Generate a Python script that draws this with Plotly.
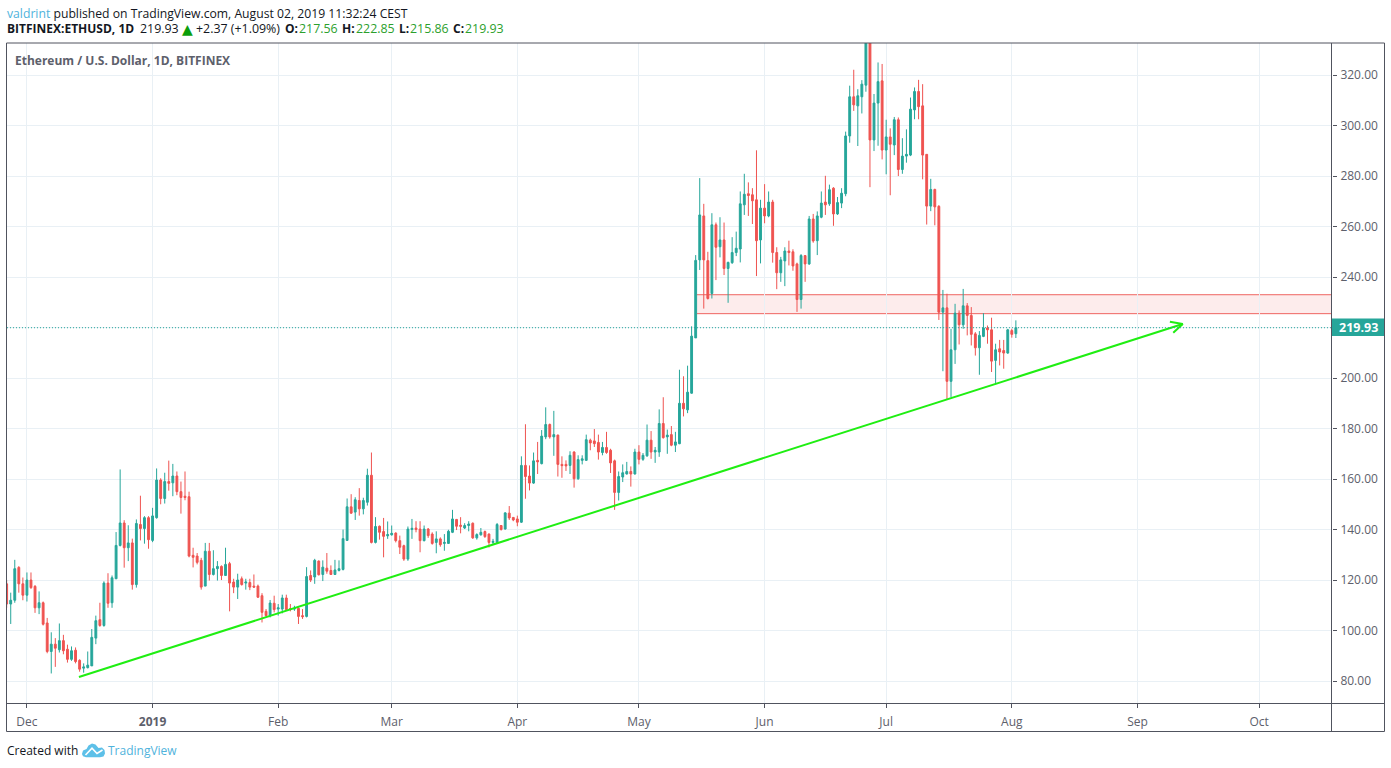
import pandas as pd
import plotly.graph_objects as go

FIRST_DAY = "2018-11-26"

opens = [
    118.5,110.5,112,125,118.5,
    114,120,117.5,109,111,103,91.7,94.6,92.4,96,92.6,88.6,92.2,88.2,85.1,85.3,86,97,104.3,102,118.8,111,120.5,133.7,142.6,132.8,134.7,118.2,142,140.4,144.7,
    135.7,144.7,159.6,152.3,159,158.5,161.2,155,153.2,153,129.8,129.5,127.8,117.6,131.4,122.2,124.5,125.4,121.8,126.5,119.2,117.2,120.5,118.8,119,117.6,117.6,113.8,107.6,105.9,110.8,
    108.5,108.5,112.9,108.7,108.5,108.8,105.9,105.6,121.8,121.2,127.5,122.2,124.7,123.8,122.2,123.8,124.2,135.7,149,146.9,151.5,148.2,150.8,161.5,134.9,141.3,139.2,137.5,
    137.9,138.6,135.6,133.6,128.3,140,140.6,140.2,135.6,140.2,138.2,134.9,136.3,134.5,134.5,138.9,144,141.7,140.6,141.6,142.5,136.7,137.9,139.2,138.2,134.9,134.9,141.6,140.2,146.5,144.8,
    144.2,142.9,165.4,161.2,158.4,167.4,166.1,176.7,181.6,176.7,177.4,165.8,165.8,165.4,170.7,160.1,167.4,167.4,175.4,175.1,174.5,170.5,172.5,171.4,167.2,154.7,160.8,162,163,162,
    170.7,167.8,169.2,175.4,170.7,170.7,182,176.7,177.6,173.4,174,190,187.4,194,215.9,246.8,264.2,246.5,233.5,260.7,252,254.7,243.4,245.7,249.7,251.1,268.6,273,272.6,270.6,254.7,
    267.3,264.2,269.7,249.7,241.7,246.4,250.3,250,245.2,231.1,248.5,245.2,263,254.4,263.7,269.7,269,275.2,265,269.3,273,295.9,311.4,307.8,311.4,316,337,294.3,308.9,317.7,
    290.3,295.5,292.3,302.3,282.6,287.9,288.3,306.2,313.5,307.8,288.6,268.1,274.7,268,226.1,227.8,198.7,211.2,225.7,221.1,228.6,224.8,217.5,212,216.5,219.8,219.1,207,211.6,210.9,209.9,
    218.8,217.56,
]
highs = [
    120,115,128,125.5,121,
    123,123,118,115.5,111.5,105,99.3,97,102.8,98.3,94.4,93.7,93.3,88.6,87,91.7,100.6,105.9,111,119.5,122.7,121.8,139,163.8,143.7,141.7,136.4,144,153.4,145.3,145.3,
    148.6,164.2,160.3,162.5,167.3,166,163,159,163,155,132.8,130.7,128.8,134.7,134.7,131.8,127.5,125.8,132.8,127.2,120.5,122.5,121.4,120.5,120.5,122.2,118.2,114.8,108.5,112.1,113.8,
    110.5,114.2,114.2,110.5,109.8,109.2,108.5,125.1,123.8,128.4,127.8,127.8,130.7,125.8,128,127.8,140,152.3,154,152.8,156.4,152.6,164.1,170.5,144.9,141.6,144.6,143.2,
    141.6,138.9,137.6,134,141.2,144.2,143.3,143.3,141.6,140.6,138.9,139.3,136.9,138.2,139.9,147.8,144.2,144.9,142.5,143.3,142.8,138.5,140.6,139.6,138.5,136.3,142.6,141.8,146.9,149.3,144.9,
    145.5,169,181.7,165.4,170.5,174.7,179.4,188.4,182,187,177.6,169,167.4,171,171,169.4,169.4,177.6,176,179.8,177.6,174.7,178.7,172,167.7,163,165.8,166.8,165,172,
    173.4,170.3,181.6,179,172.7,187.6,192.4,179.6,181,178.7,203.3,200.7,204.9,220.5,248.7,279.2,269,250,265.3,261.6,263.7,261.6,246.1,255.8,258,273.9,280.9,277.5,275.2,290.2,270.6,
    276.8,273.9,270.6,251.8,248,251.8,254.4,251,245.7,249.1,248.7,264.2,265,266,273.9,280.1,276.6,275.6,271.7,275.2,297.6,315.8,322.1,314.4,318,362,340,312.5,325,324.4,
    302.3,298.9,303.4,303.2,295,298.5,311.1,315.1,318.1,316.4,288.6,278.9,275,268.5,234.9,233.4,219.5,229.4,226.8,235.3,229.7,228.1,218.2,218.6,225.7,220.8,223.9,213.6,215.1,215.1,219.5,
    219.5,222.85,
]
lows = [
    109,102.6,111,115,112,
    111.5,116.5,107,106.5,102,91,83,85.6,91.3,90.6,87.3,88,87,83.7,83.3,85,86,94.6,101.5,101.5,109,109,120.5,133.3,124.9,127.5,116.2,117,135.7,134.4,132.4,
    135,144.3,150,150.3,155.4,153.2,153.6,146.3,151.6,129,125,126.2,116.2,117.6,119.8,121.8,119.8,120,121.8,107.6,114.8,112.5,117.8,116.2,116,116.9,112.9,103.2,105.5,105.2,107.2,
    105.9,106.8,107.9,107.6,107.8,102.6,104.6,105.2,119.2,118.5,121.8,119.6,122.5,122,122,123.4,123.8,135.5,146.2,143.8,145.5,146,149.5,134.5,134.5,136,129,136.3,
    137.6,134.9,130.3,127.6,127.6,136.3,138.9,131,135.3,136.7,134,130.6,133.2,131.6,134.3,138.6,139.8,138.5,140.2,139.3,136.3,136,137.6,136.7,132.9,134,134.3,139.6,140,143.8,143.3,
    141.3,142.6,152.2,155.5,158.1,162,165.8,175.8,176,169.2,161,160.5,163.2,162,156.6,159.7,165.8,167.2,171.4,172.7,167.7,169.4,170,162.4,147.8,151.5,158.8,161.8,157,161.8,
    165.8,167.2,168.8,168,166.4,168.8,176,170,173,170.7,173.8,184.8,186.1,193.8,215.9,242.8,227.5,231.1,231.5,238.8,247.8,240.8,229.8,245.2,248.3,245.8,264.6,264.2,261,240.4,245.4,
    261.3,263.7,245.7,235.2,238.1,236.4,244.6,242.5,226.2,227.5,238.1,244.8,253.6,248.7,263.3,264.6,268.2,260.3,264.6,267.3,272,293.2,305.8,291.9,304.8,313.4,275.6,289.9,292,286.6,
    280.7,272.4,288.3,280,280.9,285.3,287.9,302.5,302.5,278.7,260.8,266.1,260.5,223,202.7,191.5,192.4,205.6,213.3,219.5,216.9,212.9,208.9,201.3,216.2,213.6,202.4,197.5,205,203.7,209.6,
    216,215.86,
]
closes = [
    110.5,112,124.5,118.5,114,
    120,117,109,111,102.5,91.7,94.6,93,96,92,88.6,92,87.7,84.7,85.6,86.3,97.3,103.9,102,118.8,110.8,120.9,133.7,142.6,132.8,134.7,118.2,142.4,140.4,144.7,136,
    145.4,159.6,152.3,159,158.3,161.2,155,152.7,152.7,129.5,129,127,117.2,131.4,122.2,124.5,125.4,121.8,126.2,118.8,117.2,120,118.2,119.2,117.2,117.2,113.2,107.2,105.9,110.9,108.3,
    109,112.9,108.3,108.4,108.8,105.6,105.5,121.4,120,127.8,122.1,125.1,123.5,122.2,124,124.5,136.4,149,146.5,151.8,148.2,151.5,161.5,134.9,141.2,138.9,137.3,138,
    138.5,135.6,133,128.3,140.2,140.5,140,135.6,140.2,137.6,134.5,136.3,134,134.9,139.3,144.2,141.3,141.3,141.6,142.2,136.7,138,138.9,137.2,134.9,135.3,142,140,146.6,144.6,143.8,
    142.9,165.4,161,158.4,167.2,166.8,177,181.6,176.7,177.6,165.8,165.3,165.2,169.4,160.1,167.7,168,175.6,174.3,174,170.7,172.5,170.5,166.4,154.7,161,162.5,163,162,170.7,
    167.8,169.4,175.4,170.7,171.4,182,176.4,177.4,173.4,174.7,190,187.8,194.4,216.6,246.6,264.6,246.8,231.5,260.7,251.8,254.7,243.4,245.8,249.7,251.4,269,272.8,272.3,270.2,254.4,267.3,
    264.2,269.7,249.7,241.7,246.8,250.3,249.7,244.4,231.1,248.5,245.2,263,254.3,264.2,269.3,268.6,274.6,265,269.5,273.2,295.9,311.4,308.2,311.8,316.4,337,294.3,308.9,317.4,290.3,
    295.5,292.6,302.3,282.6,287.9,288.6,306.5,313.5,307.5,288.3,268.1,274.7,267.8,226.1,227.8,198.7,211.2,225.7,221.1,228.6,224.8,217.3,212,216.9,219.8,219.1,206.7,211.2,210.3,209.9,219.1,
    217.3,219.93,
]
assert len(opens) == len(highs) == len(lows) == len(closes) == 250, (len(opens), len(highs), len(lows), len(closes))

x_tick_dates = ["2018-12-01","2019-01-01","2019-02-01","2019-03-01","2019-04-01","2019-05-01","2019-06-01","2019-07-01","2019-08-01","2019-09-01","2019-10-01"]
x_tick_labels = ["Dec","<b>2019</b>","Feb","Mar","Apr","May","Jun","Jul","Aug","Sep","Oct"]
y_ticks = [80,100,120,140,160,180,200,220,240,260,280,300,320]
y_tick_labels = ["80.00","100.00","120.00","140.00","160.00","180.00","200.00","","240.00","260.00","280.00","300.00","320.00"]

trend_dates = ["2018-12-13 20:00","2019-09-12 04:00"]
trend_prices = [81.6,221.4]
arrow_dates = ["2019-09-09 00:00","2019-09-12 04:00","2019-09-09 20:00"]
arrow_prices = [222.3,221.4,217.9]

zone_start = "2019-05-15 07:00"
zone_low, zone_high = 225.5, 233.0
last_price = 219.93
x_range = ["2018-11-26 02:00","2019-10-19 00:00"]
y_range = [71.3,332.7]

UP, DOWN = "#26a69a", "#ef5350"
FRAME = "#50535e"
GRID = "#e9f0f5"
GREY = "#5d606b"
BLUE = "#4fb3dc"
VALUE_GREEN = "#2ca02c"
FONT = "Open Sans"
W, H = 1391, 768
L, R, T, B = 7, 1332, 43, 703

def px(v):
    return (v - L) / (R - L)

def py(v):
    return (B - v) / (B - T)

def poly(points):
    return "M" + " L".join(f"{px(a):.5f},{py(b):.5f}" for a, b in points)

dates = pd.date_range(FIRST_DAY, periods=len(opens), freq="D")

fig = go.Figure()
fig.add_trace(go.Candlestick(
    x=dates, open=opens, high=highs, low=lows, close=closes,
    increasing=dict(line=dict(color=UP, width=1), fillcolor=UP),
    decreasing=dict(line=dict(color=DOWN, width=1), fillcolor=DOWN),
    whiskerwidth=0, showlegend=False, hoverinfo="skip",
))
fig.add_trace(go.Scatter(x=trend_dates, y=trend_prices, mode="lines",
                         line=dict(color="#1fee12", width=2), showlegend=False, hoverinfo="skip"))
fig.add_trace(go.Scatter(x=arrow_dates, y=arrow_prices, mode="lines",
                         line=dict(color="#1fee12", width=2), showlegend=False, hoverinfo="skip"))

def frame_line(x0, y0, x1, y1):
    return dict(type="line", xref="paper", yref="paper", x0=px(x0), y0=py(y0), x1=px(x1), y1=py(y1),
                line=dict(color=FRAME, width=1), layer="above")

logo_body = [(82,754),(83,750.5),(86.5,749),(88.5,745.5),(92,743.5),(95.5,744.5),(98.5,748),(102,747.5),
             (104.5,750),(105,753.5),(103.5,756.5),(100,757.3),(86,757.3),(83,756.3)]
logo_wave = [(85.5,755),(92,748.2),(97,753.5),(102.5,750)]

shapes = [
    dict(type="rect", xref="x", yref="y", x0=zone_start, x1=x_range[1], y0=zone_low, y1=zone_high,
         fillcolor="rgba(239,83,80,0.11)", line=dict(width=0), layer="below"),
    dict(type="line", xref="x", yref="y", x0=zone_start, x1=x_range[1], y0=zone_low, y1=zone_low,
         line=dict(color="#ef6461", width=1), layer="below"),
    dict(type="line", xref="x", yref="y", x0=zone_start, x1=x_range[1], y0=zone_high, y1=zone_high,
         line=dict(color="#ef6461", width=1), layer="below"),
    dict(type="line", xref="paper", yref="y", x0=0, x1=1, y0=last_price, y1=last_price,
         line=dict(color=UP, width=1, dash="1px,2px"), layer="above"),
    frame_line(6.5, 43, 1384.5, 43),
    frame_line(6.5, 731.5, 1384.5, 731.5),
    frame_line(6.5, 43, 6.5, 731.5),
    frame_line(1384.5, 43, 1384.5, 731.5),
    frame_line(1331.5, 43, 1331.5, 731.5),
    frame_line(6.5, 703.5, 1384.5, 703.5),
    dict(type="rect", xref="paper", yref="paper", x0=px(1332), x1=px(1384), y0=py(336), y1=py(318.5),
         fillcolor=UP, line=dict(width=0), layer="above"),
    dict(type="path", xref="paper", yref="paper", path=poly(logo_body) + " Z",
         fillcolor="#5dc0e8", line=dict(width=0), layer="above"),
    dict(type="path", xref="paper", yref="paper", path=poly(logo_wave),
         line=dict(color="white", width=1.6), layer="above"),
]

def note(text, x, y, size, color="#131722", anchor="left", family=FONT):
    return dict(text=text, xref="paper", yref="paper", x=px(x), y=py(y), xanchor=anchor, yanchor="middle",
                showarrow=False, align="left", font=dict(family=family, size=size, color=color), borderpad=0)

annotations = [
    note(f'<span style="color:{BLUE}">valdrint</span> published on TradingView.com, August 02, 2019 11:32:24 CEST', 5.5, 13, 12.2),
    note("<b>BITFINEX:ETHUSD, 1D</b>", 5.5, 29, 12),
    note("219.93", 139, 29, 12.4),
    note("▲", 180.5, 29, 14, "#0b9e0b", family="DejaVu Sans"),
    note("+2.37 (+1.09%)", 195, 29, 12.4),
    note("<b>O:</b>", 284, 29, 12),
    note("217.56", 298, 29, 12.4, VALUE_GREEN),
    note("<b>H:</b>", 341, 29, 12),
    note("222.85", 355, 29, 12.4, VALUE_GREEN),
    note("<b>L:</b>", 398, 29, 12),
    note("215.86", 409, 29, 12.4, VALUE_GREEN),
    note("<b>C:</b>", 452, 29, 12),
    note("219.93", 464, 29, 12.4, VALUE_GREEN),
    note("<b>Ethereum / U.S. Dollar, 1D, BITFINEX</b>", 14, 60, 12, GREY),
    note("Created with", 5.5, 750, 12),
    note("TradingView", 107, 750, 12, BLUE),
    note("<b>219.93</b>", 1358, 327.5, 12.5, "#ffffff", "center"),
]

fig.update_layout(
    width=W, height=H, margin=dict(l=L, r=W - R, t=T, b=H - B, autoexpand=False),
    paper_bgcolor="white", plot_bgcolor="white", boxgap=0.35, showlegend=False,
    font=dict(family=FONT, size=12, color=GREY),
    shapes=shapes, annotations=annotations,
    xaxis=dict(type="date", range=x_range, rangeslider=dict(visible=False), tickmode="array",
               tickvals=x_tick_dates, ticktext=x_tick_labels, showgrid=True, gridcolor=GRID, gridwidth=1,
               zeroline=False, showline=False, ticks="outside", ticklen=4, tickcolor=FRAME,
               ticklabelstandoff=4, tickfont=dict(family=FONT, size=12, color=GREY)),
    yaxis=dict(range=y_range, side="right", tickmode="array", tickvals=y_ticks, ticktext=y_tick_labels,
               showgrid=True, gridcolor=GRID, gridwidth=1, zeroline=False, showline=False,
               ticks="outside", ticklen=4, tickcolor=FRAME, ticklabelstandoff=1,
               tickfont=dict(family=FONT, size=12, color=GREY)),
)

fig.write_html("out.html", config=dict(displayModeBar=False),
               post_script="document.body.style.margin='0';document.body.style.overflow='hidden';")
